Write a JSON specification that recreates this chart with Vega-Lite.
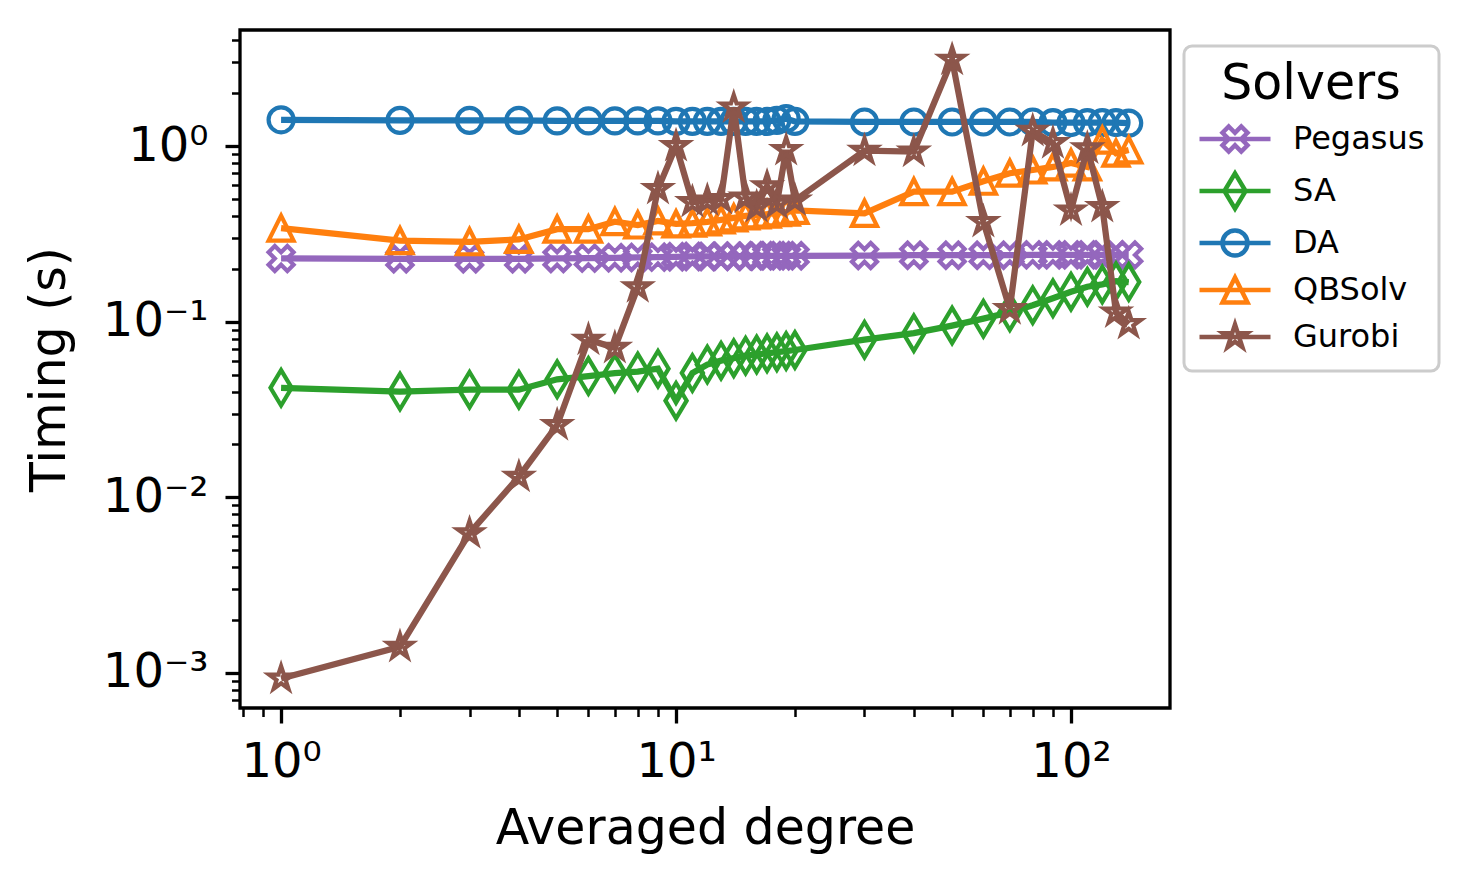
{
  "$schema": "https://vega.github.io/schema/vega-lite/v6.json",
  "width": 930,
  "height": 678,
  "autosize": {"type": "none"},
  "padding": {"left": 240, "top": 30, "right": 302, "bottom": 175},
  "background": "white",
  "datasets": {
    "timing": [
      {"solver": "Pegasus", "deg": 1, "t": 0.229}, {"solver": "Pegasus", "deg": 2, "t": 0.228}, {"solver": "Pegasus", "deg": 3, "t": 0.228}, {"solver": "Pegasus", "deg": 4, "t": 0.228},
      {"solver": "Pegasus", "deg": 5, "t": 0.229}, {"solver": "Pegasus", "deg": 6, "t": 0.230}, {"solver": "Pegasus", "deg": 7, "t": 0.231}, {"solver": "Pegasus", "deg": 8, "t": 0.232},
      {"solver": "Pegasus", "deg": 9, "t": 0.233}, {"solver": "Pegasus", "deg": 10, "t": 0.234}, {"solver": "Pegasus", "deg": 11, "t": 0.235}, {"solver": "Pegasus", "deg": 12, "t": 0.235},
      {"solver": "Pegasus", "deg": 13, "t": 0.236}, {"solver": "Pegasus", "deg": 14, "t": 0.236}, {"solver": "Pegasus", "deg": 15, "t": 0.236}, {"solver": "Pegasus", "deg": 16, "t": 0.237},
      {"solver": "Pegasus", "deg": 17, "t": 0.237}, {"solver": "Pegasus", "deg": 18, "t": 0.237}, {"solver": "Pegasus", "deg": 19, "t": 0.237}, {"solver": "Pegasus", "deg": 20, "t": 0.237},
      {"solver": "Pegasus", "deg": 30, "t": 0.238}, {"solver": "Pegasus", "deg": 40, "t": 0.239}, {"solver": "Pegasus", "deg": 50, "t": 0.239}, {"solver": "Pegasus", "deg": 60, "t": 0.239},
      {"solver": "Pegasus", "deg": 70, "t": 0.239}, {"solver": "Pegasus", "deg": 80, "t": 0.240}, {"solver": "Pegasus", "deg": 90, "t": 0.240}, {"solver": "Pegasus", "deg": 100, "t": 0.240},
      {"solver": "Pegasus", "deg": 110, "t": 0.240}, {"solver": "Pegasus", "deg": 120, "t": 0.240}, {"solver": "Pegasus", "deg": 130, "t": 0.240}, {"solver": "Pegasus", "deg": 140, "t": 0.240},

      {"solver": "SA", "deg": 1, "t": 0.042}, {"solver": "SA", "deg": 2, "t": 0.040}, {"solver": "SA", "deg": 3, "t": 0.041}, {"solver": "SA", "deg": 4, "t": 0.041},
      {"solver": "SA", "deg": 5, "t": 0.047}, {"solver": "SA", "deg": 6, "t": 0.049}, {"solver": "SA", "deg": 7, "t": 0.051}, {"solver": "SA", "deg": 8, "t": 0.052},
      {"solver": "SA", "deg": 9, "t": 0.054}, {"solver": "SA", "deg": 10, "t": 0.0355}, {"solver": "SA", "deg": 11, "t": 0.051}, {"solver": "SA", "deg": 12, "t": 0.057},
      {"solver": "SA", "deg": 13, "t": 0.060}, {"solver": "SA", "deg": 14, "t": 0.062}, {"solver": "SA", "deg": 15, "t": 0.064}, {"solver": "SA", "deg": 16, "t": 0.065},
      {"solver": "SA", "deg": 17, "t": 0.066}, {"solver": "SA", "deg": 18, "t": 0.067}, {"solver": "SA", "deg": 19, "t": 0.068}, {"solver": "SA", "deg": 20, "t": 0.069},
      {"solver": "SA", "deg": 30, "t": 0.079}, {"solver": "SA", "deg": 40, "t": 0.086}, {"solver": "SA", "deg": 50, "t": 0.095}, {"solver": "SA", "deg": 60, "t": 0.104},
      {"solver": "SA", "deg": 70, "t": 0.113}, {"solver": "SA", "deg": 80, "t": 0.124}, {"solver": "SA", "deg": 90, "t": 0.136}, {"solver": "SA", "deg": 100, "t": 0.148},
      {"solver": "SA", "deg": 110, "t": 0.158}, {"solver": "SA", "deg": 120, "t": 0.163}, {"solver": "SA", "deg": 130, "t": 0.170}, {"solver": "SA", "deg": 140, "t": 0.168},

      {"solver": "DA", "deg": 1, "t": 1.41}, {"solver": "DA", "deg": 2, "t": 1.40}, {"solver": "DA", "deg": 3, "t": 1.40}, {"solver": "DA", "deg": 4, "t": 1.40},
      {"solver": "DA", "deg": 5, "t": 1.39}, {"solver": "DA", "deg": 6, "t": 1.39}, {"solver": "DA", "deg": 7, "t": 1.39}, {"solver": "DA", "deg": 8, "t": 1.39},
      {"solver": "DA", "deg": 9, "t": 1.39}, {"solver": "DA", "deg": 10, "t": 1.38}, {"solver": "DA", "deg": 11, "t": 1.38}, {"solver": "DA", "deg": 12, "t": 1.38},
      {"solver": "DA", "deg": 13, "t": 1.38}, {"solver": "DA", "deg": 14, "t": 1.38}, {"solver": "DA", "deg": 15, "t": 1.38}, {"solver": "DA", "deg": 16, "t": 1.38},
      {"solver": "DA", "deg": 17, "t": 1.38}, {"solver": "DA", "deg": 18, "t": 1.40}, {"solver": "DA", "deg": 19, "t": 1.43}, {"solver": "DA", "deg": 20, "t": 1.38},
      {"solver": "DA", "deg": 30, "t": 1.37}, {"solver": "DA", "deg": 40, "t": 1.37}, {"solver": "DA", "deg": 50, "t": 1.37}, {"solver": "DA", "deg": 60, "t": 1.37},
      {"solver": "DA", "deg": 70, "t": 1.37}, {"solver": "DA", "deg": 80, "t": 1.37}, {"solver": "DA", "deg": 90, "t": 1.36}, {"solver": "DA", "deg": 100, "t": 1.36},
      {"solver": "DA", "deg": 110, "t": 1.36}, {"solver": "DA", "deg": 120, "t": 1.36}, {"solver": "DA", "deg": 130, "t": 1.36}, {"solver": "DA", "deg": 140, "t": 1.35},

      {"solver": "QBSolv", "deg": 1, "t": 0.341}, {"solver": "QBSolv", "deg": 2, "t": 0.289}, {"solver": "QBSolv", "deg": 3, "t": 0.285}, {"solver": "QBSolv", "deg": 4, "t": 0.294},
      {"solver": "QBSolv", "deg": 5, "t": 0.336}, {"solver": "QBSolv", "deg": 6, "t": 0.336}, {"solver": "QBSolv", "deg": 7, "t": 0.371}, {"solver": "QBSolv", "deg": 8, "t": 0.355},
      {"solver": "QBSolv", "deg": 9, "t": 0.375}, {"solver": "QBSolv", "deg": 10, "t": 0.36}, {"solver": "QBSolv", "deg": 11, "t": 0.364}, {"solver": "QBSolv", "deg": 12, "t": 0.37},
      {"solver": "QBSolv", "deg": 13, "t": 0.38}, {"solver": "QBSolv", "deg": 14, "t": 0.39}, {"solver": "QBSolv", "deg": 15, "t": 0.40}, {"solver": "QBSolv", "deg": 16, "t": 0.405},
      {"solver": "QBSolv", "deg": 17, "t": 0.41}, {"solver": "QBSolv", "deg": 18, "t": 0.417}, {"solver": "QBSolv", "deg": 19, "t": 0.42}, {"solver": "QBSolv", "deg": 20, "t": 0.43},
      {"solver": "QBSolv", "deg": 30, "t": 0.414}, {"solver": "QBSolv", "deg": 40, "t": 0.55}, {"solver": "QBSolv", "deg": 50, "t": 0.55}, {"solver": "QBSolv", "deg": 60, "t": 0.63},
      {"solver": "QBSolv", "deg": 70, "t": 0.70}, {"solver": "QBSolv", "deg": 80, "t": 0.73}, {"solver": "QBSolv", "deg": 90, "t": 0.76}, {"solver": "QBSolv", "deg": 100, "t": 0.80},
      {"solver": "QBSolv", "deg": 110, "t": 0.76}, {"solver": "QBSolv", "deg": 120, "t": 1.08}, {"solver": "QBSolv", "deg": 130, "t": 0.91}, {"solver": "QBSolv", "deg": 140, "t": 0.95},

      {"solver": "Gurobi", "deg": 1, "t": 0.00093}, {"solver": "Gurobi", "deg": 2, "t": 0.00141}, {"solver": "Gurobi", "deg": 3, "t": 0.00625}, {"solver": "Gurobi", "deg": 4, "t": 0.0131},
      {"solver": "Gurobi", "deg": 5, "t": 0.0258}, {"solver": "Gurobi", "deg": 6, "t": 0.079}, {"solver": "Gurobi", "deg": 7, "t": 0.071}, {"solver": "Gurobi", "deg": 8, "t": 0.157},
      {"solver": "Gurobi", "deg": 9, "t": 0.57}, {"solver": "Gurobi", "deg": 10, "t": 1.0}, {"solver": "Gurobi", "deg": 11, "t": 0.48}, {"solver": "Gurobi", "deg": 12, "t": 0.49},
      {"solver": "Gurobi", "deg": 13, "t": 0.50}, {"solver": "Gurobi", "deg": 14, "t": 1.66}, {"solver": "Gurobi", "deg": 15, "t": 0.51}, {"solver": "Gurobi", "deg": 16, "t": 0.45},
      {"solver": "Gurobi", "deg": 17, "t": 0.59}, {"solver": "Gurobi", "deg": 18, "t": 0.47}, {"solver": "Gurobi", "deg": 19, "t": 0.95}, {"solver": "Gurobi", "deg": 20, "t": 0.49},
      {"solver": "Gurobi", "deg": 30, "t": 0.94}, {"solver": "Gurobi", "deg": 40, "t": 0.93}, {"solver": "Gurobi", "deg": 50, "t": 3.1}, {"solver": "Gurobi", "deg": 60, "t": 0.37},
      {"solver": "Gurobi", "deg": 70, "t": 0.118}, {"solver": "Gurobi", "deg": 80, "t": 1.22}, {"solver": "Gurobi", "deg": 90, "t": 1.04}, {"solver": "Gurobi", "deg": 100, "t": 0.43},
      {"solver": "Gurobi", "deg": 110, "t": 0.97}, {"solver": "Gurobi", "deg": 120, "t": 0.45}, {"solver": "Gurobi", "deg": 130, "t": 0.113}, {"solver": "Gurobi", "deg": 140, "t": 0.097}
    ]
  },
  "data": {"name": "timing"},
  "encoding": {
    "x": {
      "field": "deg", "type": "quantitative",
      "scale": {"type": "log", "domain": [0.787, 178.1], "nice": false, "zero": false},
      "axis": {
        "title": "Averaged degree",
        "values": [0.8, 0.9, 1, 2, 3, 4, 5, 6, 7, 8, 9, 10, 20, 30, 40, 50, 60, 70, 80, 90, 100],
        "labelExpr": "datum.value == 1 ? '10⁰' : datum.value == 10 ? '10¹' : datum.value == 100 ? '10²' : ''",
        "tickSize": {"condition": {"test": "datum.value == 1 || datum.value == 10 || datum.value == 100", "value": 15}, "value": 8.5},
        "tickWidth": {"condition": {"test": "datum.value == 1 || datum.value == 10 || datum.value == 100", "value": 3.3}, "value": 2.5},
        "labelPadding": 15,
        "titlePadding": 18
      }
    },
    "y": {
      "field": "t", "type": "quantitative",
      "scale": {"type": "log", "domain": [0.000632, 4.575], "nice": false, "zero": false},
      "axis": {
        "title": "Timing (s)",
        "values": [0.0007, 0.0008, 0.0009, 0.001, 0.002, 0.003, 0.004, 0.005, 0.006, 0.007, 0.008, 0.009, 0.01, 0.02, 0.03, 0.04, 0.05, 0.06, 0.07, 0.08, 0.09, 0.1, 0.2, 0.3, 0.4, 0.5, 0.6, 0.7, 0.8, 0.9, 1, 2, 3, 4],
        "labelExpr": "datum.value == 1 ? '10⁰' : datum.value == 0.1 ? '10⁻¹' : datum.value == 0.01 ? '10⁻²' : datum.value == 0.001 ? '10⁻³' : ''",
        "tickSize": {"condition": {"test": "datum.value == 1 || datum.value == 0.1 || datum.value == 0.01 || datum.value == 0.001", "value": 15}, "value": 8.5},
        "tickWidth": {"condition": {"test": "datum.value == 1 || datum.value == 0.1 || datum.value == 0.01 || datum.value == 0.001", "value": 3.3}, "value": 2.5},
        "labelPadding": 17,
        "titlePadding": 28
      }
    },
    "color": {
      "field": "solver", "type": "nominal",
      "scale": {"domain": ["Pegasus", "SA", "DA", "QBSolv", "Gurobi"], "range": ["#9467bd", "#2ca02c", "#1f77b4", "#ff7f0e", "#8c564b"]},
      "legend": {
        "title": "Solvers",
        "orient": "none",
        "legendX": 944,
        "legendY": 16,
        "titleFontSize": 49,
        "titleFontWeight": "normal",
        "titleColor": "black",
        "titleAnchor": "middle",
        "titlePadding": 14,
        "labelFontSize": 32,
        "labelColor": "black",
        "labelOffset": 63,
        "rowPadding": 3,
        "padding": 14,
        "fillColor": "white",
        "strokeColor": "#cccccc",
        "cornerRadius": 8,
        "symbolSize": 625,
        "symbolStrokeWidth": 4.5,
        "symbolOpacity": 1,
        "encode": {
          "legend": {"update": {"strokeWidth": {"value": 3}}},
          "symbols": {
            "update": {
              "shape": {"signal": "datum.value === 'Pegasus' ? 'M-1.16,0L4.52,0M1.18,-1L1.68,-0.5L2.18,-1L2.68,-0.5L2.18,0L2.68,0.5L2.18,1L1.68,0.5L1.18,1L0.68,0.5L1.18,0L0.68,-0.5Z' : datum.value === 'SA' ? 'M-1.16,0L4.52,0M1.68,-1.414L2.529,0L1.68,1.414L0.831,0Z' : datum.value === 'DA' ? 'M-1.16,0L4.52,0M2.68,0A1,1,0,1,1,0.68,0A1,1,0,1,1,2.68,0Z' : datum.value === 'QBSolv' ? 'M-1.16,0L4.52,0M1.68,-1L2.68,1L0.68,1Z' : 'M-1.16,0L4.52,0M1.68,-1L1.905,-0.309L2.631,-0.309L2.043,0.118L2.268,0.809L1.68,0.382L1.092,0.809L1.317,0.118L0.729,-0.309L1.455,-0.309Z'"},
              "fill": {"value": "transparent"},
              "strokeWidth": {"value": 4.5},
              "size": {"value": 625},
              "opacity": {"value": 1}
            }
          }
        }
      }
    }
  },
  "layer": [
    {"transform": [{"filter": "datum.solver === 'Pegasus'"}], "mark": {"type": "line", "strokeWidth": 6.25}},
    {"transform": [{"filter": "datum.solver === 'Pegasus'"}], "mark": {"type": "point", "filled": false, "size": 625, "strokeWidth": 4.2, "opacity": 1,
      "shape": "M-0.5,-1L0,-0.5L0.5,-1L1,-0.5L0.5,0L1,0.5L0.5,1L0,0.5L-0.5,1L-1,0.5L-0.5,0L-1,-0.5Z"}},
    {"transform": [{"filter": "datum.solver === 'SA'"}], "mark": {"type": "line", "strokeWidth": 6.25}},
    {"transform": [{"filter": "datum.solver === 'SA'"}], "mark": {"type": "point", "filled": false, "size": 625, "strokeWidth": 4.2, "opacity": 1,
      "shape": "M0,-1.414L0.849,0L0,1.414L-0.849,0Z"}},
    {"transform": [{"filter": "datum.solver === 'DA'"}], "mark": {"type": "line", "strokeWidth": 6.25}},
    {"transform": [{"filter": "datum.solver === 'DA'"}], "mark": {"type": "point", "filled": false, "size": 625, "strokeWidth": 4.2, "opacity": 1,
      "shape": "circle"}},
    {"transform": [{"filter": "datum.solver === 'QBSolv'"}], "mark": {"type": "line", "strokeWidth": 6.25}},
    {"transform": [{"filter": "datum.solver === 'QBSolv'"}], "mark": {"type": "point", "filled": false, "size": 625, "strokeWidth": 4.2, "opacity": 1,
      "shape": "M0,-1L1,1L-1,1Z"}},
    {"transform": [{"filter": "datum.solver === 'Gurobi'"}], "mark": {"type": "line", "strokeWidth": 6.25}},
    {"transform": [{"filter": "datum.solver === 'Gurobi'"}], "mark": {"type": "point", "filled": false, "size": 625, "strokeWidth": 4.2, "opacity": 1,
      "shape": "M0,-1L0.225,-0.309L0.951,-0.309L0.363,0.118L0.588,0.809L0,0.382L-0.588,0.809L-0.363,0.118L-0.951,-0.309L-0.225,-0.309Z"}}
  ],
  "config": {
    "font": "DejaVu Sans",
    "view": {"stroke": "black", "strokeWidth": 3.3},
    "axis": {
      "grid": false,
      "domain": false,
      "labelFont": "DejaVu Sans",
      "titleFont": "DejaVu Sans",
      "labelFontSize": 48,
      "titleFontSize": 49,
      "titleFontWeight": "normal",
      "labelColor": "black",
      "titleColor": "black",
      "tickColor": "black",
      "labelOverlap": false,
      "labelFlush": false,
      "labelBound": false
    },
    "legend": {"labelFont": "DejaVu Sans", "titleFont": "DejaVu Sans"}
  }
}
